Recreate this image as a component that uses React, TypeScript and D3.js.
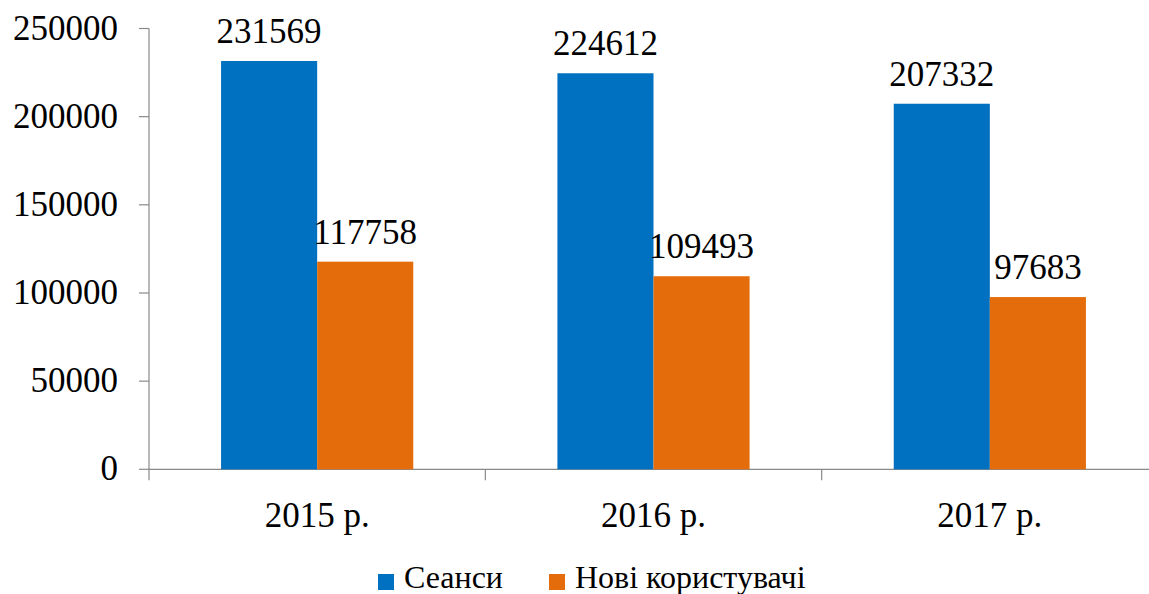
import React, { useEffect, useRef } from "react";
import * as d3 from "d3";

const categories = ["2015 р.", "2016 р.", "2017 р."];
const seriesNames = ["Сеанси", "Нові користувачі"];
const sessions = [231569, 224612, 207332];
const newUsers = [117758, 109493, 97683];
const yTicks = [0, 50000, 100000, 150000, 200000, 250000];
const colors = ["#0070C0", "#E46C0A"];

const W = 1149;
const H = 594;
const FONT = "Liberation Serif, Times New Roman, DejaVu Serif, serif";

const App = () => {
  const ref = useRef<SVGSVGElement>(null);

  useEffect(() => {
    const svg = d3.select(ref.current);
    svg.selectAll("*").remove();

    const left = 149,
      right = 1158,
      top = 28.5,
      bottom = 469.3;

    const x = d3.scaleBand().domain(categories).range([left, right]);
    const inner = d3
      .scaleBand()
      .domain(seriesNames)
      .range([0, x.bandwidth()])
      .paddingInner(0)
      .paddingOuter(0.75);
    const y = d3.scaleLinear().domain([0, 250000]).range([bottom, top]);

    const axisColor = "#898989";
    const g = svg.append("g").style("font-family", FONT).attr("fill", "#000");

    g.append("line")
      .attr("x1", left)
      .attr("x2", right)
      .attr("y1", y(0))
      .attr("y2", y(0))
      .attr("stroke", axisColor)
      .attr("stroke-width", 1.2);
    g.append("line")
      .attr("x1", left)
      .attr("x2", left)
      .attr("y1", y(250000))
      .attr("y2", y(0) + 11)
      .attr("stroke", axisColor)
      .attr("stroke-width", 1.2);

    yTicks.forEach((t) => {
      g.append("line")
        .attr("x1", left - 10)
        .attr("x2", left)
        .attr("y1", y(t))
        .attr("y2", y(t))
        .attr("stroke", axisColor)
        .attr("stroke-width", 1.2);
      g.append("text")
        .attr("x", 118)
        .attr("y", y(t) + 11)
        .attr("text-anchor", "end")
        .style("font-size", "35px")
        .text(t);
    });

    categories.forEach((c, i) => {
      const x0 = x(c) as number;
      g.append("line")
        .attr("x1", x0 + x.bandwidth())
        .attr("x2", x0 + x.bandwidth())
        .attr("y1", y(0))
        .attr("y2", y(0) + 11)
        .attr("stroke", axisColor)
        .attr("stroke-width", 1.2);
      g.append("text")
        .attr("x", x0 + x.bandwidth() / 2)
        .attr("y", 527)
        .attr("text-anchor", "middle")
        .style("font-size", "35px")
        .text(c);

      [sessions[i], newUsers[i]].forEach((v, j) => {
        const bx = x0 + (inner(seriesNames[j]) as number);
        g.append("rect")
          .attr("x", bx)
          .attr("y", y(v))
          .attr("width", inner.bandwidth())
          .attr("height", y(0) - y(v))
          .attr("fill", colors[j]);
        g.append("text")
          .attr("x", bx + inner.bandwidth() / 2)
          .attr("y", y(v) - 18)
          .attr("text-anchor", "middle")
          .style("font-size", "35px")
          .text(v);
      });
    });

    // legend
    const legendX = [378, 549];
    seriesNames.forEach((s, j) => {
      g.append("rect")
        .attr("x", legendX[j])
        .attr("y", 574)
        .attr("width", 16)
        .attr("height", 16)
        .attr("fill", colors[j]);
      g.append("text")
        .attr("x", legendX[j] + 26)
        .attr("y", 588)
        .style("font-size", "32px")
        .text(s);
    });
  }, []);

  return (
    <svg
      ref={ref}
      width={W}
      height={H}
      style={{ position: "absolute", left: 0, top: 0, background: "#fff" }}
    />
  );
};

export default App;
